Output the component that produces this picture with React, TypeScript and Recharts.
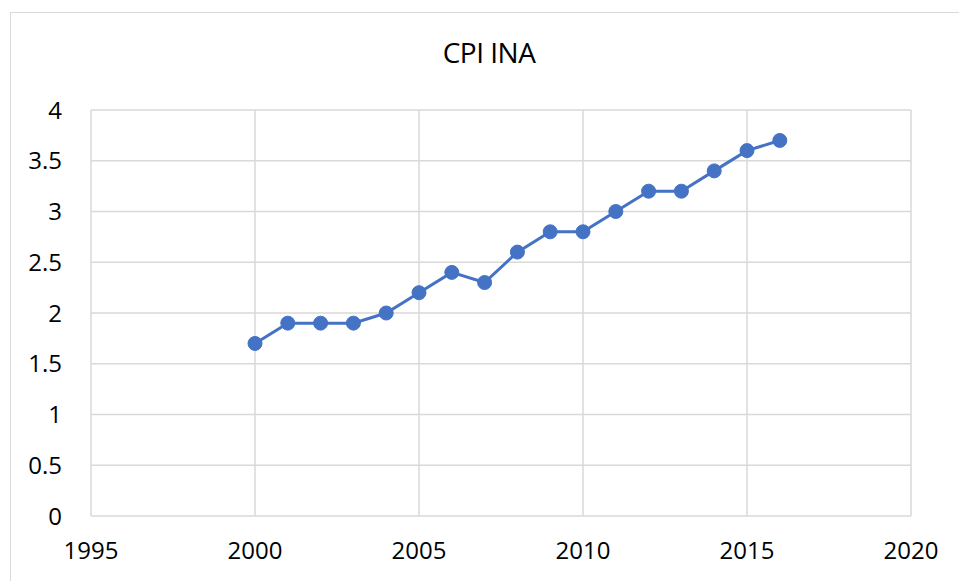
import { LineChart, Line, XAxis, YAxis, CartesianGrid } from 'recharts'

const years = [2000, 2001, 2002, 2003, 2004, 2005, 2006, 2007, 2008, 2009, 2010, 2011, 2012, 2013, 2014, 2015, 2016]
const cpi = [1.7, 1.9, 1.9, 1.9, 2.0, 2.2, 2.4, 2.3, 2.6, 2.8, 2.8, 3.0, 3.2, 3.2, 3.4, 3.6, 3.7]
const xTicks = [1995, 2000, 2005, 2010, 2015, 2020]
const yTicks = [0, 0.5, 1, 1.5, 2, 2.5, 3, 3.5, 4]

const data = years.map((year, i) => ({ year, value: cpi[i] }))

const FONT = '"Open Sans", "Noto Sans", sans-serif'

export default function App() {
  return (
    <div style={{ position: 'absolute', left: 0, top: 0, width: 959, height: 581, overflow: 'hidden', background: '#fff', fontFamily: FONT }}>
      {/* chart border */}
      <div style={{ position: 'absolute', left: 10, top: 12, width: 970, height: 600, border: '1.5px solid #d9d9d9' }} />
      <div style={{ position: 'absolute', left: 0, top: 33, width: 978, textAlign: 'center', fontSize: 28, color: '#000', letterSpacing: -0.5 }}>
        CPI INA
      </div>
      <div style={{ position: 'absolute', left: 0, top: 0 }}>
        <LineChart width={959} height={581} data={data} margin={{ top: 110, right: 48, bottom: 0, left: 31 }}>
          <CartesianGrid stroke="#d9d9d9" strokeWidth={1.5} />
          <XAxis
            dataKey="year"
            type="number"
            domain={[1995, 2020]}
            ticks={xTicks}
            axisLine={false}
            tickLine={false}
            tickSize={0}
            tickMargin={26}
            height={65}
            tick={{ fill: '#000', fontSize: 24, fontFamily: FONT }}
          />
          <YAxis
            type="number"
            domain={[0, 4]}
            ticks={yTicks}
            axisLine={false}
            tickLine={false}
            tickSize={0}
            tickMargin={29}
            width={60}
            tick={{ fill: '#000', fontSize: 24, fontFamily: FONT }}
          />
          <Line
            dataKey="value"
            stroke="#4472c4"
            strokeWidth={3}
            dot={{ r: 7, fill: '#4472c4', stroke: '#4472c4', strokeWidth: 1 }}
            isAnimationActive={false}
          />
        </LineChart>
      </div>
    </div>
  )
}
